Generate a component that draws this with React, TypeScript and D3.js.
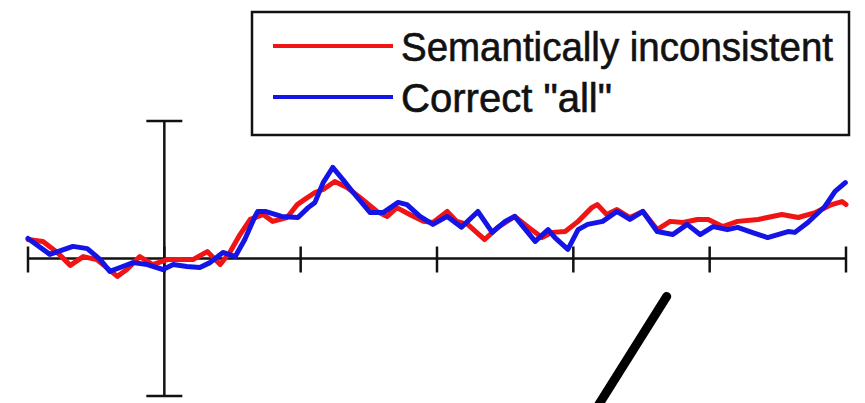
import React from "react";
import * as d3 from "d3";

const W = 865;
const H = 403;

// time axis (ms) and amplitude (µV)
const xTicks = [-200, 0, 200, 400, 600, 800, 1000];
const yRange = [-5, 5];

const redTimes = [-200,-178,-157,-138,-119,-99,-69,-55,-36,-17,4,23,42,63,82,96,111,126,145,159,180,195,206,221,233,250,268,287,312,327,341,360,380,394,415,429,445,470,489,514,533,554,569,588,607,627,635,649,664,683,702,723,742,761,782,798,819,841,871,906,930,955,979,994,1000];
const redValues = [0.69,0.62,0.22,-0.25,0.07,-0.04,-0.65,-0.4,0.07,-0.22,-0.04,-0.04,-0.04,0.25,-0.22,0.22,0.87,1.42,1.6,1.35,1.49,1.96,2.15,2.4,2.51,2.8,2.58,2.22,1.71,1.53,1.85,1.6,1.35,1.31,1.71,1.35,1.24,0.69,1.13,1.53,1.16,0.76,0.95,0.98,1.35,1.85,1.96,1.6,1.78,1.49,1.71,1.05,1.35,1.31,1.42,1.42,1.16,1.35,1.42,1.6,1.49,1.67,1.96,2.07,1.96];

const blueTimes = [-200,-168,-134,-113,-94,-80,-61,-46,-25,-2,13,33,52,67,86,104,118,133,137,148,172,196,211,221,233,247,262,277,302,321,343,356,375,394,415,436,460,481,500,514,544,563,573,592,607,621,643,664,683,702,723,746,767,786,805,826,841,862,885,915,925,944,969,984,999];
const blueValues = [0.73,0.15,0.44,0.36,-0.04,-0.47,-0.29,-0.15,-0.22,-0.4,-0.22,-0.29,-0.33,-0.15,0.22,0.07,0.69,1.53,1.71,1.71,1.53,1.49,1.85,2.04,2.76,3.31,2.87,2.4,1.67,1.67,2.04,1.96,1.53,1.24,1.53,1.14,1.71,0.95,1.35,1.53,0.62,1.05,0.76,0.33,1.05,1.24,1.35,1.71,1.42,1.71,0.98,0.87,1.24,0.87,1.16,1.05,1.13,0.95,0.76,0.98,0.95,1.31,1.89,2.44,2.76];

const seriesNames = ["Semantically inconsistent", "Correct \"all\""];
const seriesColors = ["#f01414", "#1414e6"];
const legendTextLengths = [432, 211];

// annotation stroke, in data units (time, amplitude)
const slashTimes = [737, 630];
const slashValues = [-1.38, -5.6];

export default function App() {
  const x = d3.scaleLinear().domain([-200, 1000]).range([28, 846]);
  const y = d3.scaleLinear().domain(yRange).range([396, 121]);

  const line = d3
    .line<[number, number]>()
    .x((d) => x(d[0]))
    .y((d) => y(d[1]));

  const redPts = redTimes.map((t, i) => [t, redValues[i]] as [number, number]);
  const bluePts = blueTimes.map((t, i) => [t, blueValues[i]] as [number, number]);
  const slashPts = slashTimes.map((t, i) => [t, slashValues[i]] as [number, number]);

  const y0 = y(0);
  const x0 = x(0);

  return (
    <svg
      width={W}
      height={H}
      style={{ position: "absolute", left: 0, top: 0, background: "#fff" }}
    >
      <rect x={0} y={0} width={W} height={H} fill="#fff" />
      {/* x axis */}
      <line x1={x(-200)} x2={x(1000)} y1={y0} y2={y0} stroke="#111" strokeWidth={2.5} />
      {xTicks.map((t) => (
        <line key={t} x1={x(t)} x2={x(t)} y1={y0 - 12} y2={y0 + 14} stroke="#111" strokeWidth={2.5} />
      ))}
      {/* y axis */}
      <line x1={x0} x2={x0} y1={y(yRange[1])} y2={y(yRange[0])} stroke="#111" strokeWidth={2.5} />
      <line x1={x0 - 18} x2={x0 + 18} y1={y(yRange[1])} y2={y(yRange[1])} stroke="#111" strokeWidth={2.5} />
      <line x1={x0 - 18} x2={x0 + 18} y1={y(yRange[0])} y2={y(yRange[0])} stroke="#111" strokeWidth={2.5} />

      {/* series */}
      <path d={line(redPts) || ""} fill="none" stroke={seriesColors[0]} strokeWidth={5} strokeLinejoin="round" strokeLinecap="round" />
      <path d={line(bluePts) || ""} fill="none" stroke={seriesColors[1]} strokeWidth={5} strokeLinejoin="round" strokeLinecap="round" />

      {/* annotation slash */}
      <path d={line(slashPts) || ""} fill="none" stroke="#000" strokeWidth={9} strokeLinecap="round" />

      {/* legend */}
      <rect x={252} y={12} width={597} height={123} fill="#fff" stroke="#111" strokeWidth={2.5} />
      {seriesNames.map((name, i) => (
        <g key={name} transform={`translate(0, ${46 + i * 51})`}>
          <line x1={273} x2={393} y1={0} y2={0} stroke={seriesColors[i]} strokeWidth={4} />
          <text
            x={401}
            y={15}
            fontFamily="Liberation Sans, Arial, sans-serif"
            fontSize={40}
            fill="#111"
            stroke="#111"
            strokeWidth={0.6}
            textLength={legendTextLengths[i]}
            lengthAdjust="spacingAndGlyphs"
          >
            {name}
          </text>
        </g>
      ))}
    </svg>
  );
}
